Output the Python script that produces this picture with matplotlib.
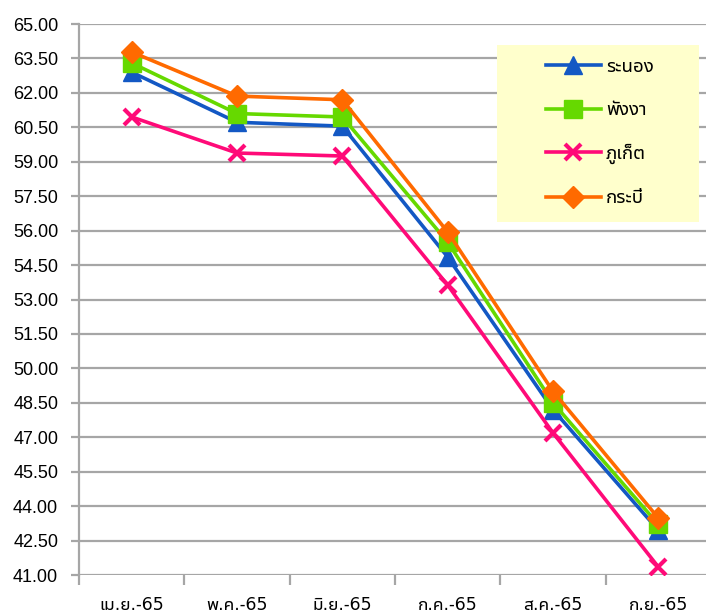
import matplotlib
matplotlib.use("Agg")
import matplotlib.pyplot as plt
from matplotlib.patches import Rectangle
import numpy as np

plt.rcParams['font.family'] = ['Noto Sans Thai UI', 'DejaVu Sans']

# เดือน
months = ['เม.ย.-65', 'พ.ค.-65', 'มิ.ย.-65', 'ก.ค.-65', 'ส.ค.-65', 'ก.ย.-65']
# ค่าของแต่ละจังหวัด
ranong = [62.9, 60.72, 60.55, 54.85, 48.2, 42.95]
phangnga = [63.3, 61.1, 60.95, 55.5, 48.5, 43.2]
phuket = [60.95, 59.38, 59.25, 53.63, 47.19, 41.35]
krabi = [63.78, 61.86, 61.7, 55.94, 49.0, 43.48]
yticks = np.arange(41.0, 65.01, 1.5)

grid_c = '#A6A6A6'
x = np.arange(len(months))

fig = plt.figure(figsize=(7.06, 6.16), dpi=100)
ax = fig.add_axes([79/706, 41/616, 632/706, 551/616])

ax.plot(x, ranong, color='#1358C4', lw=2.6, marker='^', ms=13, label='ระนอง', zorder=3)
ax.plot(x, phangnga, color='#66D900', lw=2.6, marker='s', ms=12.5, label='พังงา', zorder=3)
ax.plot(x, phuket, color='#FF0A78', lw=2.6, marker='x', ms=11.5, mew=3, label='ภูเก็ต', zorder=3)
ax.plot(x, krabi, color='#FF6A00', lw=2.6, marker='D', ms=11, label='กระบี่', zorder=3)

ax.set_ylim(41, 65)
ax.set_xlim(-0.5, 5.5)
ax.set_yticks(yticks)
ax.set_yticklabels([f'{v:.2f}' for v in yticks], fontsize=13, family='Liberation Sans')
ax.yaxis.grid(True, color=grid_c, lw=1.6)
ax.set_axisbelow(True)

# ขีดแบ่งหมวดหมู่ และป้ายกำกับตรงกลาง
ax.set_xticks(np.arange(-0.5, 6, 1))
ax.set_xticklabels([])
ax.set_xticks(x, minor=True)
ax.set_xticklabels(months, minor=True, fontsize=12.5)
ax.tick_params(axis='x', which='major', length=7, width=1.6, color=grid_c)
ax.tick_params(axis='x', which='minor', length=0, pad=15)
ax.tick_params(axis='y', length=6, width=1.6, color=grid_c, pad=9)

for s in ['top', 'right', 'bottom']:
    ax.spines[s].set_visible(False)
ax.spines['left'].set_color(grid_c)
ax.spines['left'].set_linewidth(1.6)

# กรอบคำอธิบายสัญลักษณ์
ax.add_patch(Rectangle((497/706, 1 - 222/616), 202/706, 177/616,
                       transform=fig.transFigure, facecolor='#FFFFCC',
                       edgecolor='none', zorder=4, clip_on=False))
leg = ax.legend(loc='center', bbox_to_anchor=(600/706, 1 - 132/616),
                bbox_transform=fig.transFigure, frameon=False,
                prop={'size': 13.5, 'weight': 'bold'}, handlelength=2.9,
                labelspacing=1.3, borderpad=0, handletextpad=0.3)
leg.set_zorder(5)

fig.savefig('out.png', dpi=100)
